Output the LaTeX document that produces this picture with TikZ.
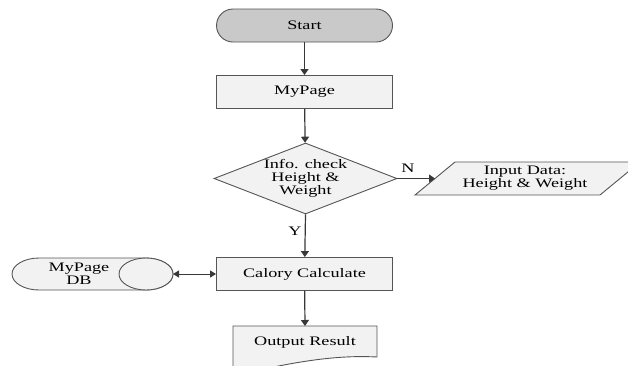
\documentclass[tikz,border=0pt]{standalone}
\usepackage{fontspec}
\setmainfont[FakeStretch=1.4]{Liberation Serif}
\usetikzlibrary{shapes.geometric,arrows.meta}
\definecolor{edge}{HTML}{555555}
\definecolor{wire}{HTML}{383838}
\definecolor{boxfill}{HTML}{F2F2F2}
\definecolor{termfill}{HTML}{C9C9C9}
\tikzset{
  txt/.style={font=\fontsize{13}{13}\selectfont, align=center, inner sep=0pt},
  shapeline/.style={draw=edge, line width=0.9pt, fill=boxfill},
  procbox/.style={shapeline, rectangle, minimum width=176pt, minimum height=33pt, txt},
  flow/.style={draw=wire, line width=1.2pt, -{Triangle[length=6pt,width=8pt]}},
  both/.style={draw=wire, line width=1pt, {Triangle[length=6pt,width=7pt]}-{Triangle[length=6pt,width=7pt]}},
  tag/.style={font=\fontsize{13}{13}\selectfont, inner sep=0pt}
}
\begin{document}
\begin{tikzpicture}[x=1pt,y=-1pt]
\useasboundingbox (0,0) rectangle (628,365);

% terminal
\node[procbox, fill=termfill, rounded corners=16.5pt] (start) at (304.5,25.5) {Start};
% process boxes
\node[procbox] (mypage) at (304.5,92) {MyPage};
\node[procbox] (calc) at (304.5,274) {Calory Calculate};

% decision
\node[shapeline, diamond, minimum width=183pt, minimum height=71pt, inner sep=0pt] (check) at (305.5,178.5) {};
\node[txt] (checktext) at (305.5,178.5) {Info. check\\Height \&\\Weight};

% input parallelogram
\draw[shapeline] (415,195) -- (455,162) -- (640,162) -- (600,195) -- cycle;
\node[txt] (input) at (525,178.5) {Input Data:\\Height \& Weight};
\coordinate (inputL) at (435,178.5);

% stored data (horizontal cylinder)
\draw[shapeline] (146,258) -- (39,258) arc[start angle=90,end angle=270,x radius=27pt,y radius=16pt]
  -- (146,290) arc[start angle=270,end angle=450,x radius=27pt,y radius=16pt] -- cycle;
\draw[shapeline] (146,274) ellipse[x radius=27pt,y radius=16pt];
\node[txt] (db) at (79,274) {MyPage\\DB};
\coordinate (dbR) at (173,274);

% document
\draw[shapeline] (233,380) -- (233,326) -- (377,326) -- (377,357)
  .. controls (340,355) and (300,360) .. (233,376) -- cycle;
\node[txt] (out) at (305,342) {Output Result};
\coordinate (outT) at (305,326);

% connectors
\draw[flow] (start) -- (mypage);
\draw[flow] (mypage) -- (check);
\draw[flow] (check.east) -- (inputL);
\draw[flow] (check.south) -- (calc);
\draw[both] (dbR) -- (calc.west);
\draw[flow] (calc) -- (outT);

% branch labels
\node[tag] (no) at (408,168) {N};
\node[tag] (yes) at (295,231) {Y};
\end{tikzpicture}
\end{document}
